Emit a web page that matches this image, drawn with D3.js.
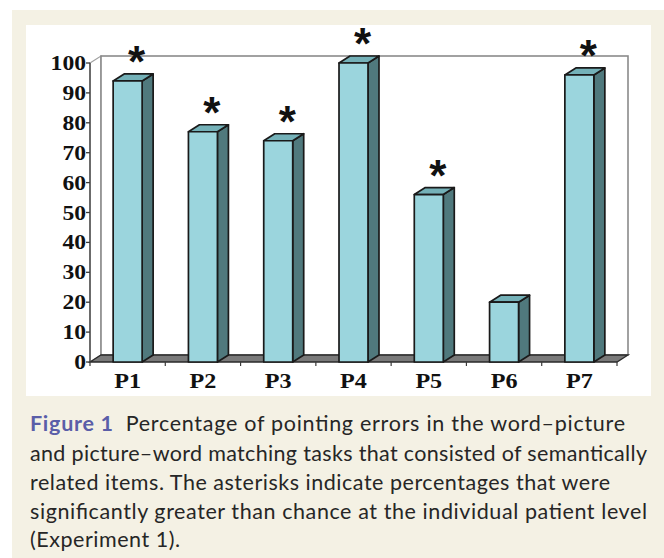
<!DOCTYPE html>
<html>
<head>
<meta charset="utf-8">
<script src="https://cdn.jsdelivr.net/npm/d3@7"></script>
<style>
  html, body { margin: 0; padding: 0; background: #ffffff; }
  svg { display: block; }
</style>
</head>
<body>
<svg id="chart" width="664" height="558"></svg>
<script>
// ---- data ----
const categories = ["P1", "P2", "P3", "P4", "P5", "P6", "P7"];
const values = [94, 77, 74, 100, 56, 20, 96];
const significant = [true, true, true, true, true, false, true];
const yTicks = [0, 10, 20, 30, 40, 50, 60, 70, 80, 90, 100];
const captionLabel = "Figure 1";
const captionLines = [
  "Percentage of pointing errors in the word\u2013picture",
  "and picture\u2013word matching tasks that consisted of semantically",
  "related items. The asterisks indicate percentages that were",
  "significantly greater than chance at the individual patient level",
  "(Experiment 1)."
];

// ---- layout ----
const svg = d3.select("#chart");
const cream = "#f4f1e4";
const depthX = 11, depthY = -7;
const plotLeft = 90, plotRight = 617, yZero = 362, yTop = 63;

svg.append("rect").attr("x", 12).attr("y", 10).attr("width", 652).attr("height", 548).attr("fill", cream);
svg.append("rect").attr("x", 26).attr("y", 25).attr("width", 625).attr("height", 371).attr("fill", "#ffffff");

const x = d3.scaleBand().domain(categories).range([plotLeft, plotRight])
  .paddingInner(0.615).paddingOuter(0.3075);
const y = d3.scaleLinear().domain([0, 100]).range([yZero, yTop]);
const step = x.step();
const bw = x.bandwidth();

const g = svg.append("g");

// left wall
g.append("polygon")
  .attr("points", [[plotLeft, y(100)], [plotLeft + depthX, y(100) + depthY], [plotLeft + depthX, yZero + depthY], [plotLeft, yZero]].map(p => p.join(",")).join(" "))
  .attr("fill", "#ffffff").attr("stroke", "#a0a0a0").attr("stroke-width", 1.2);
// back wall
g.append("rect")
  .attr("x", plotLeft + depthX).attr("y", y(100) + depthY)
  .attr("width", plotRight - plotLeft).attr("height", yZero - y(100))
  .attr("fill", "#ffffff").attr("stroke", "#8a8a8a").attr("stroke-width", 1.6);
// floor
g.append("polygon")
  .attr("points", [[plotLeft, yZero], [plotRight, yZero], [plotRight + depthX, yZero + depthY], [plotLeft + depthX, yZero + depthY]].map(p => p.join(",")).join(" "))
  .attr("fill", "#7a7a7a").attr("stroke", "#2a2a2a").attr("stroke-width", 1.3);

// y axis line and ticks
g.append("line").attr("x1", plotLeft).attr("x2", plotLeft).attr("y1", y(100)).attr("y2", yZero)
  .attr("stroke", "#3a3a3a").attr("stroke-width", 1.3);
g.selectAll(".ytick").data(yTicks).join("line")
  .attr("x1", plotLeft - 4).attr("x2", plotLeft).attr("y1", d => y(d)).attr("y2", d => y(d))
  .attr("stroke", "#3a3a3a").attr("stroke-width", 1.3);
g.selectAll(".ylab").data(yTicks).join("text")
  .attr("transform", d => `translate(${plotLeft - 4},${y(d)}) scale(1.18,1)`)
  .attr("text-anchor", "end").attr("dy", "0.35em")
  .attr("font-family", "'Liberation Serif', 'Times New Roman', serif")
  .attr("font-weight", "bold").attr("font-size", 20).attr("fill", "#111")
  .text(d => d);

// x ticks (between categories)
g.selectAll(".xtick").data(d3.range(categories.length + 1)).join("line")
  .attr("x1", i => plotLeft + i * step).attr("x2", i => plotLeft + i * step)
  .attr("y1", yZero).attr("y2", yZero + 4)
  .attr("stroke", "#3a3a3a").attr("stroke-width", 1.2);
g.selectAll(".xlab").data(categories).join("text")
  .attr("transform", d => `translate(${x(d) + bw / 2},388) scale(1.15,1)`)
  .attr("text-anchor", "middle")
  .attr("font-family", "'Liberation Serif', 'Times New Roman', serif")
  .attr("font-weight", "bold").attr("font-size", 21).attr("fill", "#111")
  .text(d => d);

// bars
const bars = g.selectAll(".bar").data(categories.map((c, i) => ({ c, v: values[i], s: significant[i] })))
  .join("g");
const pts = a => a.map(p => p.join(",")).join(" ");
bars.append("polygon") // side
  .attr("points", d => { const x0 = x(d.c) + bw, yv = y(d.v);
    return pts([[x0, yv], [x0 + depthX, yv + depthY], [x0 + depthX, yZero + depthY], [x0, yZero]]); })
  .attr("fill", "#50797d").attr("stroke", "#1a1a1a").attr("stroke-width", 1.7).attr("stroke-linejoin", "round");
bars.append("polygon") // top
  .attr("points", d => { const x0 = x(d.c), yv = y(d.v);
    return pts([[x0, yv], [x0 + depthX, yv + depthY], [x0 + bw + depthX, yv + depthY], [x0 + bw, yv]]); })
  .attr("fill", "#74b1b8").attr("stroke", "#1a1a1a").attr("stroke-width", 1.7).attr("stroke-linejoin", "round");
bars.append("rect") // front
  .attr("x", d => x(d.c)).attr("y", d => y(d.v)).attr("width", bw).attr("height", d => yZero - y(d.v))
  .attr("fill", "#9bd5dd").attr("stroke", "#1a1a1a").attr("stroke-width", 1.7).attr("stroke-linejoin", "round");

// asterisks
bars.filter(d => d.s).append("text")
  .attr("x", d => x(d.c) + bw / 2 + 9)
  .attr("y", d => y(d.v) - 4)
  .attr("text-anchor", "middle")
  .attr("font-family", "'Liberation Sans', Arial, sans-serif")
  .attr("font-weight", "bold").attr("font-size", 44).attr("fill", "#111")
  .text("*");

// caption
const capFont = "Lato, 'Open Sans', sans-serif";
const baselines = [431, 460.5, 489.5, 518.5, 547];
const lineWidths = [595, 617, 580, 617, 150];
captionLines.forEach((line, i) => {
  const t = svg.append("text")
    .attr("x", 30).attr("y", baselines[i])
    .attr("font-family", capFont).attr("font-size", 21.5).attr("fill", "#262626")
    .attr("textLength", lineWidths[i]).attr("lengthAdjust", "spacing");
  if (i === 0) {
    t.append("tspan").attr("fill", "#5a5ea8").attr("font-weight", "bold").text(captionLabel + "\u00a0\u00a0");
  }
  t.append("tspan").text(line);
});
</script>
</body>
</html>
